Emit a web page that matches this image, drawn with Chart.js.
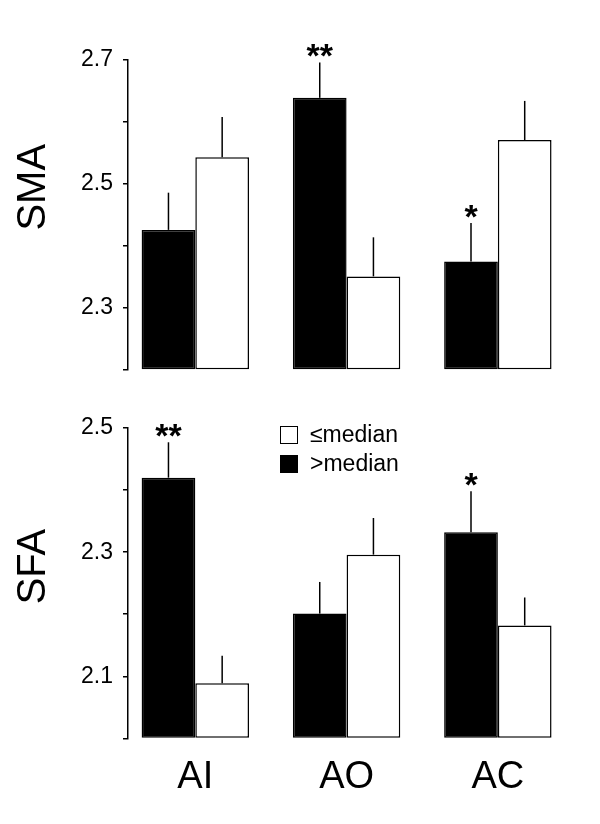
<!DOCTYPE html>
<html>
<head>
<meta charset="utf-8">
<script src="https://cdn.jsdelivr.net/npm/chart.js@4.4.1/dist/chart.umd.min.js"></script>
<style>
	body { margin: 0; background: #fff; }
	#wrap { position: relative; width: 600px; height: 824px; font-family: "Liberation Sans", Arial, sans-serif; }
	#wrap canvas { position: absolute; left: 0; }
	.lgRow { position: absolute; left: 280px; height: 20px; line-height: 20px; font-size: 23px; color: #000; white-space: nowrap; }
	.lgBox { position: absolute; left: 0; top: 0; width: 16px; height: 16px; border: 1.5px solid #000; }
	.lgText { position: absolute; left: 30px; top: -2px; }
</style>
</head>
<body>
<div id="wrap">
	<canvas id="smaChart" width="600" height="400" style="top:0"></canvas>
	<canvas id="sfaChart" width="600" height="424" style="top:400px"></canvas>
	<div class="lgRow" style="top:426px"><div class="lgBox" style="background:#fff"></div><span class="lgText">≤median</span></div>
	<div class="lgRow" style="top:455px"><div class="lgBox" style="background:#000"></div><span class="lgText">&gt;median</span></div>
</div>
<script>
var categories = ['AI', 'AO', 'AC'];

// SMA panel
var smaAbove = [2.426, 2.639, 2.375];
var smaAboveErr = [0.060, 0.057, 0.062];
var smaBelow = [2.543, 2.351, 2.571];
var smaBelowErr = [0.065, 0.063, 0.063];
var smaStars = ['', '**', '*'];

// SFA panel
var sfaAbove = [2.420, 2.201, 2.332];
var sfaAboveErr = [0.057, 0.051, 0.066];
var sfaBelow = [2.089, 2.296, 2.182];
var sfaBelowErr = [0.044, 0.059, 0.045];
var sfaStars = ['**', '', '*'];

var FONT = '"Liberation Sans", Arial, sans-serif';

function points(values) {
	return values.map(function (v, i) { return {x: i + 1, y: v}; });
}

// error bars (upper half only) and significance stars
var errorBarPlugin = {
	id: 'errorBars',
	afterDatasetsDraw: function (chart) {
		var ctx = chart.ctx, yScale = chart.scales.y;
		ctx.save();
		chart.data.datasets.forEach(function (ds, di) {
			var meta = chart.getDatasetMeta(di);
			meta.data.forEach(function (bar, i) {
				var top = yScale.getPixelForValue(ds.data[i].y + ds.errors[i]);
				ctx.strokeStyle = '#000';
				ctx.lineWidth = 1.5;
				ctx.beginPath();
				ctx.moveTo(bar.x, bar.y);
				ctx.lineTo(bar.x, top);
				ctx.stroke();
				if (ds.stars && ds.stars[i]) {
					ctx.fillStyle = '#000';
					ctx.font = 'bold 34px ' + FONT;
					ctx.textAlign = 'center';
					ctx.textBaseline = 'alphabetic';
					ctx.fillText(ds.stars[i], bar.x, top + 5);
				}
			});
		});
		ctx.restore();
	}
};

function makeChart(canvasId, title, above, aboveErr, below, belowErr, stars, yMin, yMax, showX, padding) {
	return new Chart(document.getElementById(canvasId), {
		type: 'bar',
		data: {
			datasets: [
				{
					label: '>median', data: points(above), errors: aboveErr, stars: stars, base: yMin,
					backgroundColor: '#000', borderColor: '#000', borderWidth: 1.5, borderSkipped: false, clip: 4
				},
				{
					label: '≤median', data: points(below), errors: belowErr, base: yMin,
					backgroundColor: '#fff', borderColor: '#000', borderWidth: 1.5, borderSkipped: false, clip: 4
				}
			]
		},
		options: {
			responsive: false,
			animation: false,
			devicePixelRatio: 1,
			layout: {padding: padding},
			categoryPercentage: 0.71,
			barPercentage: 1.0,
			plugins: {legend: {display: false}, tooltip: {enabled: false}},
			scales: {
				x: {
					type: 'linear',
					offset: false,
					min: 0.555,
					max: 3.51,
					display: showX,
					grid: {display: false, drawTicks: false},
					border: {display: false},
					afterBuildTicks: function (scale) {
						scale.ticks = categories.map(function (c, i) { return {value: i + 1}; });
					},
					ticks: {
						color: '#000',
						padding: 16,
						font: {family: FONT, size: 38},
						callback: function (v) { return categories[Math.round(v) - 1] || ''; }
					}
				},
				y: {
					min: yMin,
					max: yMax,
					afterFit: function (scale) { scale.width = 128; },
					border: {display: true, color: '#000', width: 1.5},
					grid: {drawOnChartArea: false, drawTicks: true, tickLength: 5, color: '#000', lineWidth: 1.5},
					title: {
						display: true,
						// leading spaces lift the label a little, as in the original
						text: title,
						color: '#000',
						padding: {top: 14, bottom: 0},
						font: {family: FONT, size: 40, lineHeight: 1}
					},
					ticks: {
						stepSize: 0.1,
						autoSkip: false,
						color: '#000',
						padding: 10,
						font: {family: FONT, size: 23},
						callback: function (v) {
							var n = Math.round(v * 10);
							return (n % 2 === 1) ? (n / 10).toFixed(1) : '';
						}
					}
				}
			}
		},
		plugins: [errorBarPlugin]
	});
}

makeChart('smaChart', '\u00a0\u00a0\u00a0\u00a0\u00a0SMA', smaAbove, smaAboveErr, smaBelow, smaBelowErr, smaStars,
	2.2, 2.7, false, {top: 60, bottom: 30, left: 0, right: 25});
makeChart('sfaChart', '\u00a0\u00a0\u00a0SFA', sfaAbove, sfaAboveErr, sfaBelow, sfaBelowErr, sfaStars,
	2.0, 2.5, true, {top: 28, bottom: 8, left: 0, right: 25});
</script>
</body>
</html>
